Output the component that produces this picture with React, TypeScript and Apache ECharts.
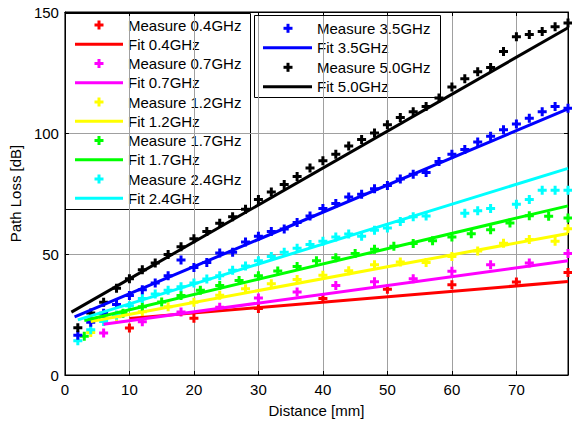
import React, { useEffect, useRef } from "react";
import * as echarts from "echarts";

// ---- data ----
const freqLabels = ["0.4GHz", "0.7GHz", "1.2GHz", "1.7GHz", "2.4GHz", "3.5GHz", "5.0GHz"];
const seriesColors = ["#ff0000", "#ff00ff", "#ffff00", "#00ff00", "#00ffff", "#0000ff", "#000000"];

const dist04 = [10, 20, 30, 40, 50, 60, 70, 78];
const loss04 = [19.4, 23.4, 27.5, 31.6, 35.4, 37.3, 38.4, 42.4];

const dist07 = [6, 12, 18, 24, 30, 36, 42, 48, 54, 60, 66, 72, 78];
const loss07 = [17.4, 22, 26, 28, 31.8, 34.3, 37, 38.5, 39.8, 42.9, 45.6, 46.3, 50.2];

const dist12 = [4, 8, 12, 16, 20, 24, 28, 32, 36, 40, 44, 48, 52, 56, 60, 64, 68, 72, 76, 78];
const loss12 = [17.6, 24.1, 26.1, 28.2, 30.1, 33, 35.6, 37.7, 39.5, 41.2, 43.1, 45.6, 46.7, 46.5, 49, 51.2, 54.4, 56, 55.3, 60.4];

const dist17 = [3, 6, 9, 12, 15, 18, 21, 24, 27, 30, 33, 36, 39, 42, 45, 48, 51, 54, 57, 60, 63, 66, 69, 72, 75, 78];
const loss17 = [16, 23.5, 25.5, 28.2, 30.2, 32.9, 35, 37, 39, 41, 43, 44.8, 47.2, 48.5, 50.2, 52, 53.2, 54.3, 55.5, 57, 58.4, 60, 62.8, 65.8, 65.6, 64.9];

const dist24 = [2, 4, 6, 8, 10, 12, 14, 16, 18, 20, 22, 24, 26, 28, 30, 32, 34, 36, 38, 40, 42, 44, 46, 48, 50, 52, 54, 56, 62, 64, 66, 70, 72, 74, 76, 78];
const loss24 = [14.2, 18.7, 22.1, 24.8, 28.6, 31.6, 33.5, 35, 36.5, 38, 39.7, 41, 43.3, 45, 47.2, 49, 50.7, 52.4, 53.9, 55.3, 57, 58.3, 57.3, 59.8, 60.7, 63.4, 65.4, 65.7, 66.8, 67.9, 68.8, 70.6, 72.5, 76.3, 76.3, 76.3];

const dist35 = [2, 4, 6, 8, 10, 12, 14, 16, 18, 20, 22, 24, 26, 28, 30, 32, 34, 36, 38, 40, 42, 44, 46, 48, 50, 52, 54, 56, 58, 60, 62, 64, 66, 68, 70, 72, 74, 76, 78];
const loss35 = [16.4, 21.8, 25.5, 29.1, 32.9, 35.2, 38, 41, 47.5, 44.4, 46.5, 50.4, 50.7, 55, 57.3, 59.3, 60.3, 63, 65.7, 68.8, 70.9, 73.6, 74.7, 77, 78.3, 81, 83, 83.7, 88.2, 91.2, 93.2, 96.3, 98.7, 101.3, 103.7, 106.1, 108.8, 110.9, 110.2];

const dist50 = [2, 4, 6, 8, 10, 12, 14, 16, 18, 20, 22, 24, 26, 28, 30, 32, 34, 36, 38, 40, 42, 44, 46, 48, 50, 52, 54, 56, 58, 60, 62, 64, 66, 68, 70, 72, 74, 76, 78];
const loss50 = [19.5, 25.6, 30.1, 35.8, 39.8, 43.5, 46.3, 49.8, 53, 56.3, 59.3, 62.7, 65.4, 68.5, 72.5, 75.6, 78.7, 82, 85.5, 88.5, 91.2, 94.6, 97.3, 100, 103.4, 106.4, 108.8, 110.9, 114.5, 119, 122.4, 125.3, 127.1, 133.7, 139.8, 140.7, 141.9, 143.9, 145.5];

const measDist = [dist04, dist07, dist12, dist17, dist24, dist35, dist50];
const measLoss = [loss04, loss07, loss12, loss17, loss24, loss35, loss50];

// linear fit end points (distance, path loss)
const fitStartX = [10, 6, 4, 3, 2, 1.5, 1];
const fitStartY = [23.4, 21, 22.1, 22.5, 22.8, 24, 26];
const fitEndX = [78, 78, 78, 78, 78, 78, 78];
const fitEndY = [38.6, 47.2, 58.5, 69.9, 85.4, 110, 143.5];

const xTicks = { min: 0, max: 78, interval: 10 };
const yTicks = { min: 0, max: 150, interval: 50 };

const FONT = "'Liberation Sans', Arial, Helvetica, sans-serif";
const PLUS = "path://M-1.5,-4.5H1.5V-1.5H4.5V1.5H1.5V4.5H-1.5V1.5H-4.5V-1.5H-1.5Z";

function buildLegend(indices: number[], box: { x: number; y: number; w: number; h: number }, rowStart: number, rowStep: number, lineX0: number, lineX1: number, markX: number, textX: number) {
  const children: any[] = [
    {
      type: "rect",
      shape: { x: box.x + 0.5, y: box.y + 0.5, width: box.w, height: box.h },
      style: { fill: "#fff", stroke: "#000", lineWidth: 1 },
    },
  ];
  let row = 0;
  indices.forEach((i) => {
    const c = seriesColors[i];
    const y1 = rowStart + rowStep * row;
    children.push(
      { type: "rect", shape: { x: markX - 1.5, y: y1 - 4.5, width: 3, height: 9 }, style: { fill: c } },
      { type: "rect", shape: { x: markX - 4.5, y: y1 - 1.5, width: 9, height: 3 }, style: { fill: c } },
      { type: "text", x: textX, y: y1, style: { text: "Measure " + freqLabels[i], fill: "#000", font: "15px " + FONT, align: "left", verticalAlign: "middle" } }
    );
    row++;
    const y2 = rowStart + rowStep * row;
    children.push(
      { type: "line", shape: { x1: lineX0, y1: y2, x2: lineX1, y2: y2 }, style: { stroke: c, lineWidth: 3 } },
      { type: "text", x: textX, y: y2, style: { text: "Fit " + freqLabels[i], fill: "#000", font: "15px " + FONT, align: "left", verticalAlign: "middle" } }
    );
    row++;
  });
  return { type: "group", z: 100, children };
}

export default function App() {
  const ref = useRef<HTMLDivElement>(null);
  useEffect(() => {
    if (!ref.current) return;
    const chart = echarts.init(ref.current, null, { renderer: "svg" });
    const series: any[] = [];
    freqLabels.forEach((f, i) => {
      series.push({
        name: "Measure " + f,
        type: "scatter",
        data: measDist[i].map((d, k) => [d, measLoss[i][k]]),
        symbol: PLUS,
        symbolSize: 9,
        itemStyle: { color: seriesColors[i], opacity: 1 },
        silent: true,
      });
      series.push({
        name: "Fit " + f,
        type: "line",
        data: [
          [fitStartX[i], fitStartY[i]],
          [fitEndX[i], fitEndY[i]],
        ],
        symbol: "none",
        lineStyle: { color: seriesColors[i], width: 3 },
        silent: true,
      });
    });
    const axisText = { color: "#000", fontSize: 15, fontFamily: FONT };
    const option: any = {
      animation: false,
      backgroundColor: "#fff",
      grid: { left: 64, top: 12, width: 504, height: 369, show: true, borderColor: "#000", borderWidth: 1, backgroundColor: "rgba(0,0,0,0)" },
      xAxis: [
        {
          type: "value",
          ...xTicks,
          name: "Distance [mm]",
          nameLocation: "middle",
          nameGap: 28,
          nameTextStyle: axisText,
          axisLine: { show: true, onZero: false, lineStyle: { color: "#000", width: 1 } },
          axisTick: { show: true, inside: true, length: 4, lineStyle: { color: "#000" } },
          axisLabel: { ...axisText, margin: 7, showMaxLabel: false },
          splitLine: { show: true, lineStyle: { color: "#a0a0a0", width: 1 } },
        },
        {
          type: "value",
          ...xTicks,
          position: "top",
          axisLine: { show: true, onZero: false, lineStyle: { color: "#000", width: 1 } },
          axisTick: { show: true, inside: true, length: 4, lineStyle: { color: "#000" } },
          axisLabel: { show: false },
          splitLine: { show: false },
        },
      ],
      yAxis: [
        {
          type: "value",
          ...yTicks,
          name: "Path Loss [dB]",
          nameLocation: "middle",
          nameGap: 38,
          nameTextStyle: axisText,
          axisLine: { show: true, onZero: false, lineStyle: { color: "#000", width: 1 } },
          axisTick: { show: true, inside: true, length: 4, lineStyle: { color: "#000" } },
          axisLabel: { ...axisText, margin: 6 },
          splitLine: { show: true, lineStyle: { color: "#a0a0a0", width: 1 } },
        },
        {
          type: "value",
          ...yTicks,
          position: "right",
          axisLine: { show: true, onZero: false, lineStyle: { color: "#000", width: 1 } },
          axisTick: { show: true, inside: true, length: 4, lineStyle: { color: "#000" } },
          axisLabel: { show: false },
          splitLine: { show: false },
        },
      ],
      series,
      graphic: [
        buildLegend([0, 1, 2, 3, 4], { x: 65, y: 13, w: 185, h: 196 }, 25, 19.25, 75, 123, 99, 128),
        buildLegend([5, 6], { x: 254, y: 15, w: 186, h: 82 }, 28.3, 19.5, 263, 312, 288, 317),
      ],
    };
    chart.setOption(option);
    return () => chart.dispose();
  }, []);
  return <div ref={ref} style={{ position: "fixed", left: 0, top: 0, width: 572, height: 423, background: "#fff" }} />;
}
